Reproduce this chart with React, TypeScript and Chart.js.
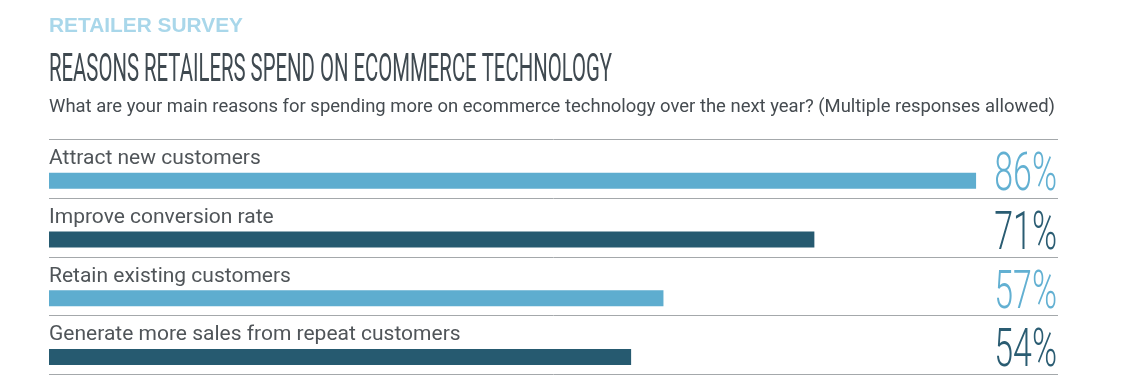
import React, { useEffect, useRef } from "react";
import { Chart, registerables } from "chart.js";

Chart.register(...registerables);

const kicker = "RETAILER SURVEY";
const title = "REASONS RETAILERS SPEND ON ECOMMERCE TECHNOLOGY";
const subtitle =
  "What are your main reasons for spending more on ecommerce technology over the next year? (Multiple responses allowed)";

const categories = [
  "Attract new customers",
  "Improve conversion rate",
  "Retain existing customers",
  "Generate more sales from repeat customers",
];
const values = [86, 71, 57, 54];
const valueLabels = ["86%", "71%", "57%", "54%"];
const barColors = ["#5EADCF", "#265A70", "#5EADCF", "#265A70"];
const valueColors = ["#62B0D2", "#2A5C72", "#62B0D2", "#2A5C72"];

const X_MAX = 93.6;

function drawFit(
  ctx: CanvasRenderingContext2D,
  text: string,
  x: number,
  y: number,
  font: string,
  color: string,
  targetWidth: number | null,
  align: "left" | "right",
  fixedScale?: number
) {
  ctx.save();
  ctx.font = font;
  ctx.fillStyle = color;
  ctx.textBaseline = "alphabetic";
  const w = ctx.measureText(text).width;
  const s = fixedScale != null ? fixedScale : targetWidth ? targetWidth / w : 1;
  ctx.translate(x, y);
  ctx.scale(s, 1);
  ctx.textAlign = align;
  ctx.fillText(text, 0, 0);
  ctx.restore();
}

const decorPlugin = {
  id: "decor",
  beforeDatasetsDraw(chart: any) {
    const { ctx, chartArea } = chart;
    const { left, right, top, bottom } = chartArea;
    const n = categories.length;
    const band = (bottom - top) / n;
    ctx.save();
    ctx.strokeStyle = "#A4A8AB";
    ctx.lineWidth = 1;
    for (let i = 0; i <= n; i++) {
      const y = Math.round(top + i * band) + 0.5;
      ctx.beginPath();
      ctx.moveTo(left, y);
      ctx.lineTo(right, y);
      ctx.stroke();
    }
    ctx.restore();

    drawFit(ctx, kicker, 49, 32, "bold 19.5px 'Liberation Sans', Arial, sans-serif", "#A9D7EA", 194, "left");
    drawFit(ctx, title, 49, 81, "400 39px Roboto, sans-serif", "#3F4950", 563, "left");
    drawFit(ctx, subtitle, 49, 112, "400 18px Roboto, sans-serif", "#454B50", 1006, "left");

    for (let i = 0; i < n; i++) {
      const bt = top + i * band;
      drawFit(ctx, categories[i], 49, bt + 25, "400 21px Roboto, sans-serif", "#505559", null, "left", 1);
    }
  },
  afterDatasetsDraw(chart: any) {
    const { ctx, chartArea } = chart;
    const { top, bottom } = chartArea;
    const n = categories.length;
    const band = (bottom - top) / n;
    for (let i = 0; i < n; i++) {
      const bt = top + i * band;
      drawFit(ctx, valueLabels[i], 1057, bt + 51, "300 53px Roboto, sans-serif", valueColors[i], null, "right", 0.64);
    }
  },
};

export default function App() {
  const ref = useRef<HTMLCanvasElement | null>(null);
  useEffect(() => {
    if (!ref.current) return;
    const chart = new Chart(ref.current, {
      type: "bar",
      data: {
        labels: categories,
        datasets: [
          {
            data: categories.map(() => null),
            backgroundColor: "rgba(0,0,0,0)",
            categoryPercentage: 0.851,
            barPercentage: 0.64,
          } as any,
          {
            data: values,
            backgroundColor: barColors,
            borderWidth: 0,
            categoryPercentage: 0.851,
            barPercentage: 0.64,
          },
        ],
      },
      options: {
        indexAxis: "y",
        animation: false,
        responsive: true,
        maintainAspectRatio: false,
        layout: { padding: { left: 49, right: 64, top: 139, bottom: 2 } },
        scales: {
          x: { display: false, min: 0, max: X_MAX },
          y: { display: false },
        },
        plugins: {
          legend: { display: false },
          tooltip: { enabled: false },
          title: { display: false },
        },
      },
      plugins: [decorPlugin],
    });
    return () => chart.destroy();
  }, []);
  return (
    <div style={{ position: "fixed", left: 0, top: 0, width: 1122, height: 376, background: "#fff" }}>
      <canvas ref={ref} />
    </div>
  );
}
